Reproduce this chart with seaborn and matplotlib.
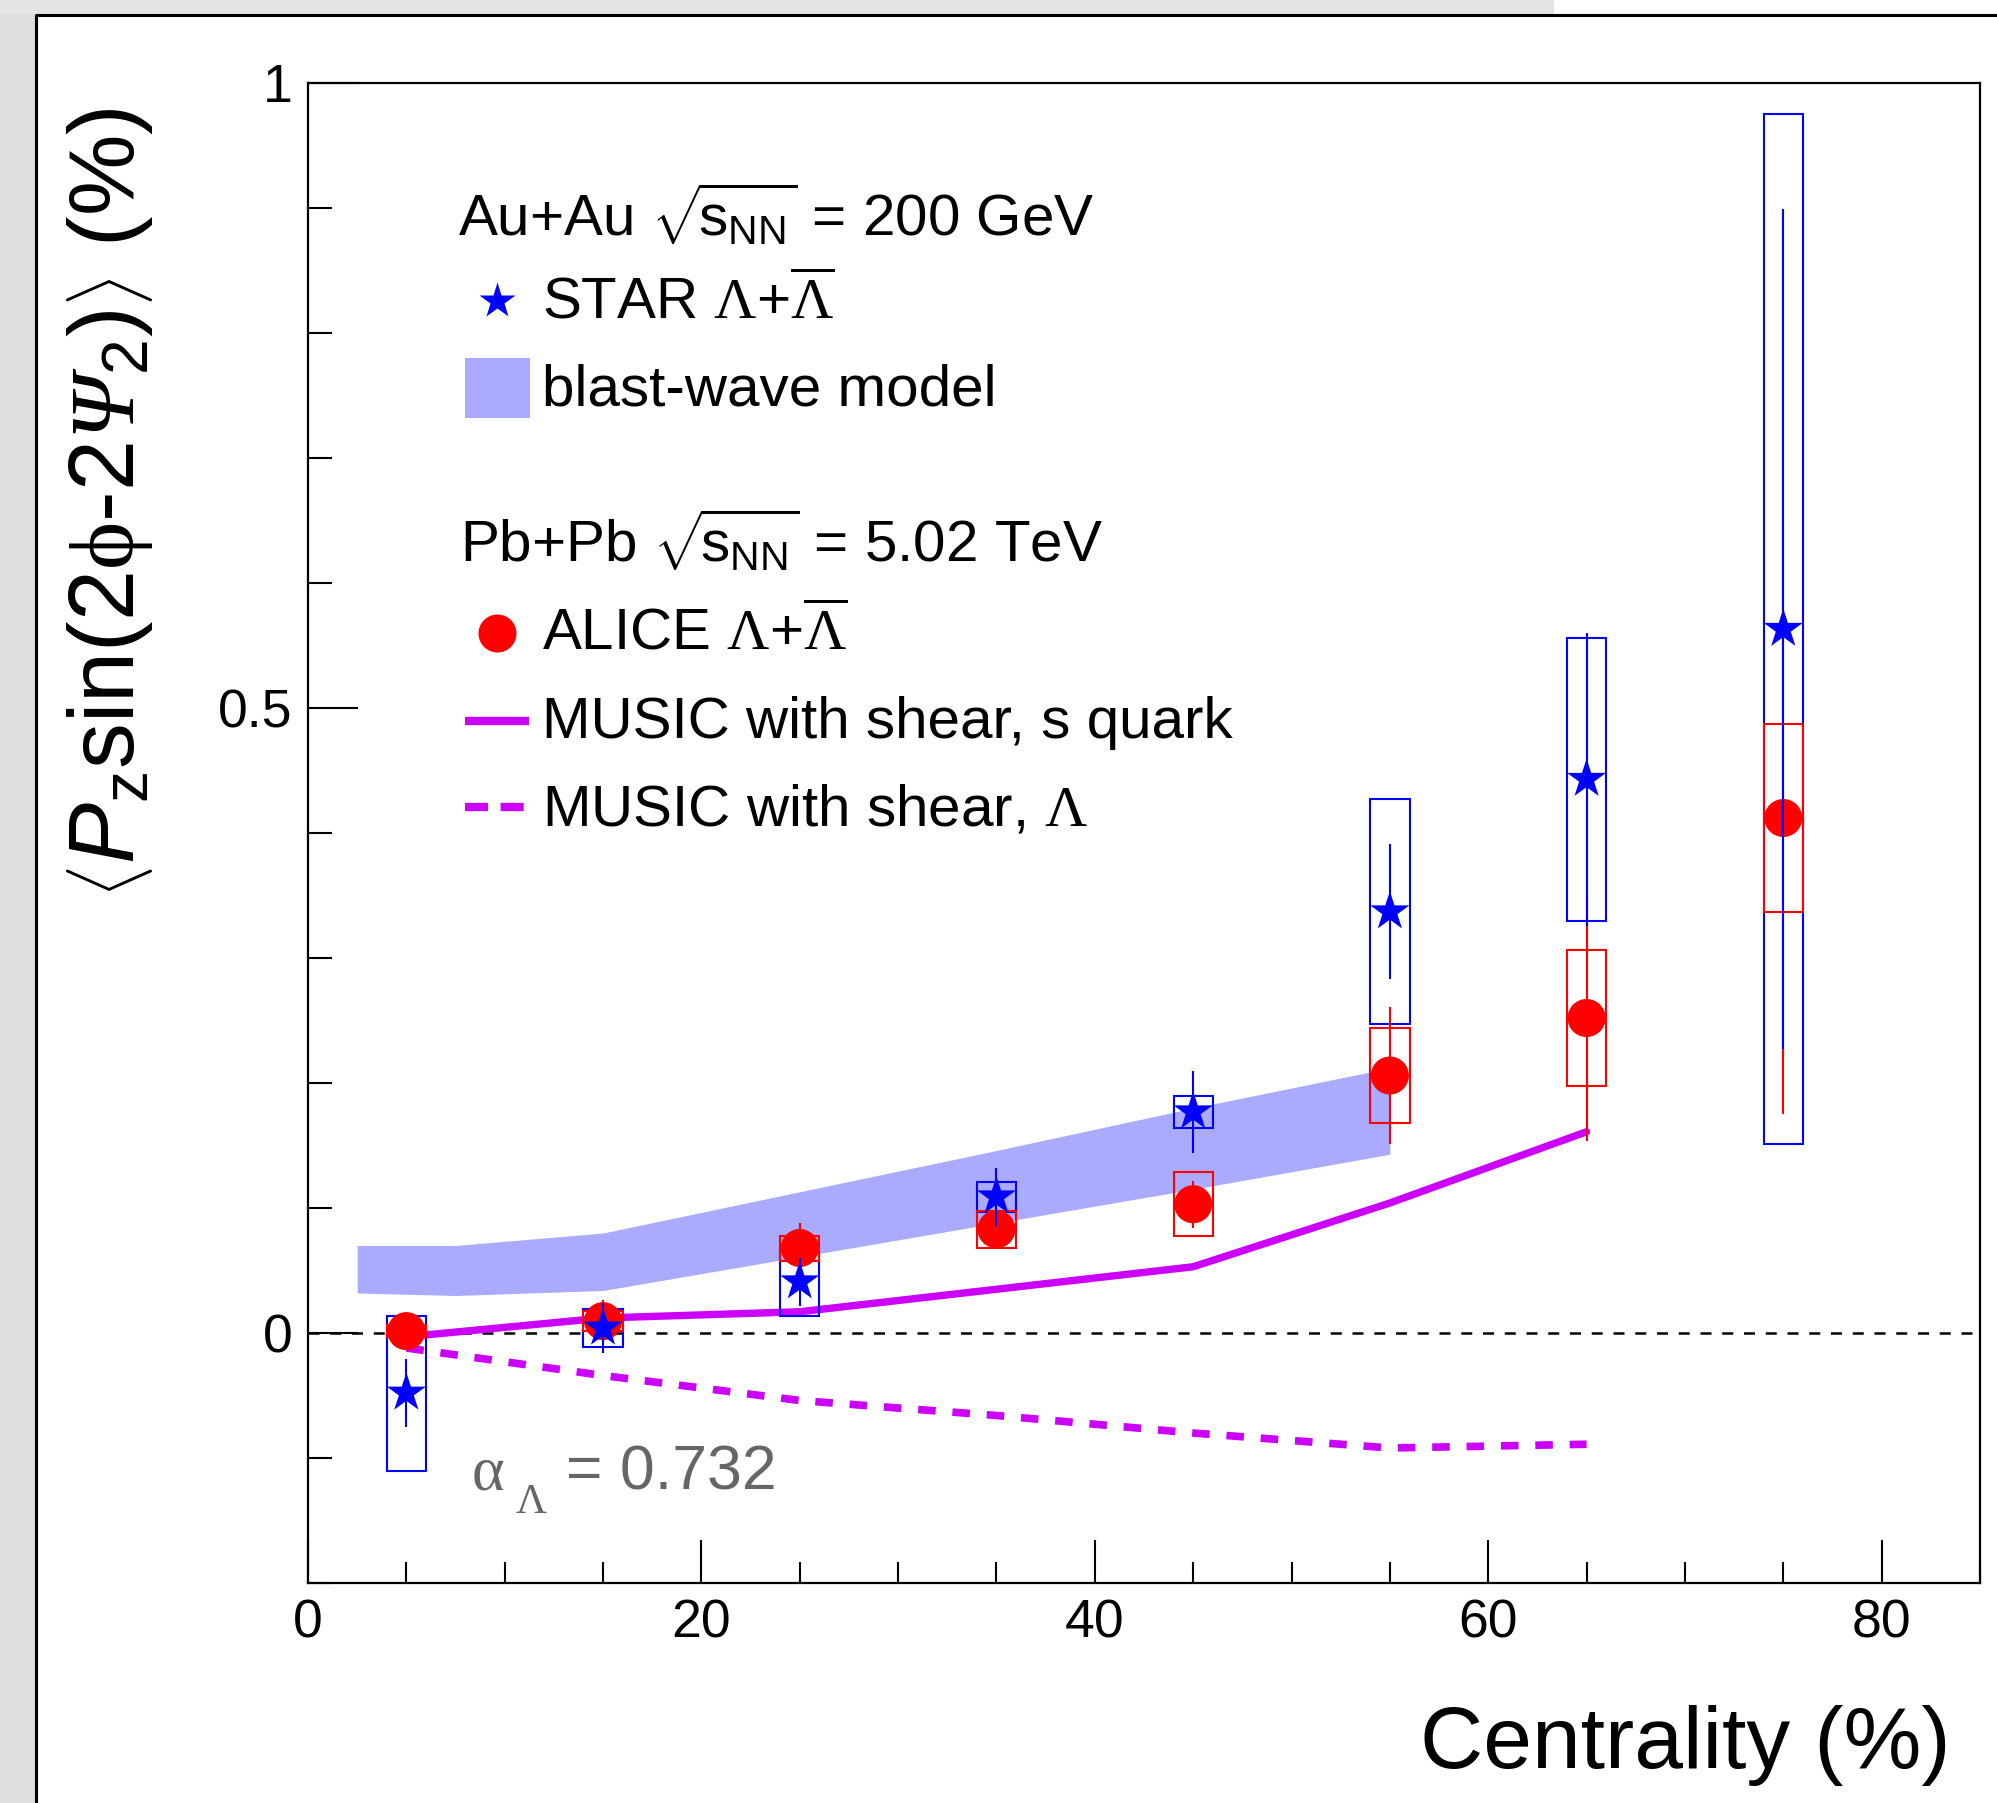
import numpy as np
import pandas as pd
import matplotlib
matplotlib.use("Agg")
import matplotlib.pyplot as plt
import seaborn as sns
from matplotlib.patches import Rectangle
from matplotlib.lines import Line2D
from matplotlib.ticker import MultipleLocator, FixedLocator, FixedFormatter

# ---------------- data ----------------
centrality = [5, 15, 25, 35, 45, 55, 65, 75]

star_val = [-0.048, 0.004, 0.041, 0.109, 0.177, 0.337, 0.443, 0.563]
star_stat = [0.027, 0.020, 0.019, 0.023, 0.033, 0.054, 0.117, 0.336]
star_sys = [0.062, 0.015, 0.027, 0.012, 0.013, 0.090, 0.113, 0.412]

alice_val = [0.0015, 0.0095, 0.068, 0.083, 0.103, 0.206, 0.252, 0.412]
alice_stat = [0.004, 0.017, 0.020, 0.012, 0.019, 0.0545, 0.098, 0.237]
alice_sys = [0.005, 0.008, 0.010, 0.015, 0.0255, 0.038, 0.0545, 0.0755]

music_x = [5, 15, 25, 35, 45, 55, 65]
music_squark = [-0.003, 0.012, 0.017, 0.035, 0.053, 0.104, 0.161]
music_lambda = [-0.012, -0.034, -0.054, -0.066, -0.080, -0.092, -0.089]

bw_x = [2.5, 7.5, 15, 25, 35, 45, 55]
bw_high = [0.070, 0.070, 0.080, 0.113, 0.146, 0.180, 0.212]
bw_low = [0.032, 0.030, 0.034, 0.061, 0.088, 0.115, 0.143]

xticks = [0, 20, 40, 60, 80]
yticks = [0, 0.5, 1]
ytick_labels = ["0", "0.5", "1"]

# ---------------- style ----------------
W, H = 1997, 1803
sns.set_theme(style="ticks")
plt.rcParams["font.family"] = ["Liberation Sans", "DejaVu Sans"]
plt.rcParams["mathtext.fontset"] = "custom"
plt.rcParams["mathtext.rm"] = "Liberation Serif"
plt.rcParams["mathtext.it"] = "Liberation Sans:italic"
plt.rcParams["mathtext.sf"] = "Liberation Sans"
plt.rcParams["mathtext.bf"] = "Liberation Serif:italic"
plt.rcParams["text.color"] = "black"
plt.rcParams["axes.edgecolor"] = "black"
plt.rcParams["xtick.color"] = "black"
plt.rcParams["ytick.color"] = "black"

BLUE = "#0000ff"
RED = "#ff0000"
MAG = "#cc00ff"
BAND = "#aaaaff"

fig = plt.figure(figsize=(W / 100, H / 100), dpi=100)
fig.patch.set_facecolor("white")


def fx(px):
    return px / W


def fy(py):
    return 1 - py / H


# page background / frame
fig.add_artist(Rectangle((0, 0), fx(35), 1, transform=fig.transFigure,
                         facecolor="#dedede", edgecolor="none", zorder=-10))
fig.add_artist(Rectangle((0, fy(14)), fx(1554), 14 / H, transform=fig.transFigure,
                         facecolor="#e4e4e4", edgecolor="none", zorder=-10))
fig.add_artist(Line2D([fx(36), fx(36), 1.0], [0, fy(15), fy(15)],
                      transform=fig.transFigure, color="black", lw=2.2, zorder=-5))

ax = fig.add_axes([fx(308), fy(1583), fx(1980) - fx(308), fy(83) - fy(1583)])
ax.set_facecolor("white")

# blast-wave band
ax.fill_between(bw_x, bw_low, bw_high, color=BAND, lw=0, zorder=1)

# zero line
ax.axhline(0, color="black", lw=1.8, linestyle=(0, (4.4, 4.3)), zorder=1.5)

# MUSIC curves
sns.lineplot(x=music_x, y=music_squark, color=MAG, lw=5.3, ax=ax, zorder=2)
sns.lineplot(x=music_x, y=music_lambda, color=MAG, lw=5.5,
             linestyle=(0, (2.3, 2.2)), ax=ax, zorder=2)

# systematic boxes
sv = np.array(star_val); ss = np.array(star_sys)
av = np.array(alice_val); asy = np.array(alice_sys)
ax.bar(centrality, 2 * ss, bottom=sv - ss, width=2, fill=False,
       edgecolor=BLUE, linewidth=1.5, zorder=3)
ax.bar(centrality, 2 * asy, bottom=av - asy, width=2, fill=False,
       edgecolor=RED, linewidth=1.5, zorder=3)

# ALICE
ax.errorbar(centrality, alice_val, yerr=alice_stat, fmt="none", ecolor=RED,
            elinewidth=1.5, capsize=0, zorder=4)
sns.scatterplot(x=centrality, y=alice_val, color=RED, marker="o", s=750,
                edgecolor="none", linewidth=0, ax=ax, zorder=5)
# STAR
ax.errorbar(centrality, star_val, yerr=star_stat, fmt="none", ecolor=BLUE,
            elinewidth=1.5, capsize=0, zorder=6)
sns.scatterplot(x=centrality, y=star_val, color=BLUE, marker="*", s=880,
                edgecolor="none", linewidth=0, ax=ax, zorder=7)

# axes
ax.set_xlim(0, 85)
ax.set_ylim(-0.2, 1.0)
ax.xaxis.set_major_locator(FixedLocator(xticks))
ax.xaxis.set_minor_locator(MultipleLocator(5))
ax.yaxis.set_major_locator(FixedLocator(yticks))
ax.yaxis.set_major_formatter(FixedFormatter(ytick_labels))
ax.yaxis.set_minor_locator(MultipleLocator(0.1))
ax.tick_params(axis="x", which="major", direction="in", length=31, width=1.5,
               labelsize=38.5, pad=11, top=False, bottom=True)
ax.tick_params(axis="x", which="minor", direction="in", length=15, width=1.5,
               top=False, bottom=True)
ax.tick_params(axis="y", which="major", direction="in", length=36, width=1.5,
               labelsize=38.5, pad=11, right=False, left=True)
ax.tick_params(axis="y", which="minor", direction="in", length=17, width=1.5,
               right=False, left=True)
for sp in ax.spines.values():
    sp.set_visible(True)
    sp.set_linewidth(1.6)
    sp.set_color("black")
ax.set_xlabel("")
ax.set_ylabel("")

# axis titles
fig.text(fx(1950), fy(1768), "Centrality (%)", ha="right", va="baseline",
         fontsize=63)
ylab = (r"$\left\langle P_{\mathsf{z}}\mathsf{sin(2}\mathrm{\phi}\mathsf{‐2}"
        r"\mathbf{\Psi}_{\mathsf{2}}\mathsf{)}\right\rangle$" + " (%)")
fig.text(fx(110), fy(108), ylab, rotation=90, ha="center", va="top",
         fontsize=66)

# legend (manual, ROOT-like)
LFS = 42
sq = r"$\sqrt{\!\mathsf{s}_{\mathsf{NN}}}$"
fig.text(fx(458), fy(236), "Au+Au " + sq + " = 200 GeV", fontsize=LFS, va="baseline")
fig.add_artist(Line2D([fx(497)], [fy(301)], marker="*", ms=27, color=BLUE,
                      mec="none", transform=fig.transFigure))
fig.text(fx(542), fy(318), "STAR " + r"$\Lambda\mathsf{+}\overline{\Lambda}$",
         fontsize=LFS, va="baseline")
fig.add_artist(Rectangle((fx(465), fy(418)), fx(530) - fx(465), 60 / H,
                         transform=fig.transFigure, facecolor=BAND, edgecolor="none"))
fig.text(fx(542), fy(406), "blast-wave model", fontsize=LFS, va="baseline")

fig.text(fx(460), fy(562), "Pb+Pb " + sq + " = 5.02 TeV", fontsize=LFS, va="baseline")
fig.add_artist(Line2D([fx(497)], [fy(633)], marker="o", ms=27.4, color=RED,
                      mec="none", transform=fig.transFigure))
fig.text(fx(542), fy(650), "ALICE " + r"$\Lambda\mathsf{+}\overline{\Lambda}$",
         fontsize=LFS, va="baseline")
fig.add_artist(Line2D([fx(465), fx(529)], [fy(721), fy(721)], color=MAG, lw=6,
                      solid_capstyle="butt", transform=fig.transFigure))
fig.text(fx(542), fy(738), "MUSIC with shear, s quark", fontsize=LFS, va="baseline")
fig.add_artist(Line2D([fx(465), fx(529)], [fy(807), fy(807)], color=MAG, lw=6,
                      linestyle=(0, (2.77, 1.5)), dash_capstyle="butt",
                      transform=fig.transFigure))
fig.text(fx(542), fy(825), "MUSIC with shear, " + r"$\Lambda$", fontsize=LFS, va="baseline")

# alpha annotation
GRAY = "#666666"
fig.text(fx(471), fy(1489), r"$\mathrm{\alpha}$", fontsize=45, color=GRAY, va="baseline")
fig.text(fx(515), fy(1513), r"$\Lambda$", fontsize=31, color=GRAY, va="baseline")
fig.text(fx(566), fy(1489), "= 0.732", fontsize=45, color=GRAY, va="baseline")

fig.savefig("out.png", dpi=100, facecolor=fig.get_facecolor())
